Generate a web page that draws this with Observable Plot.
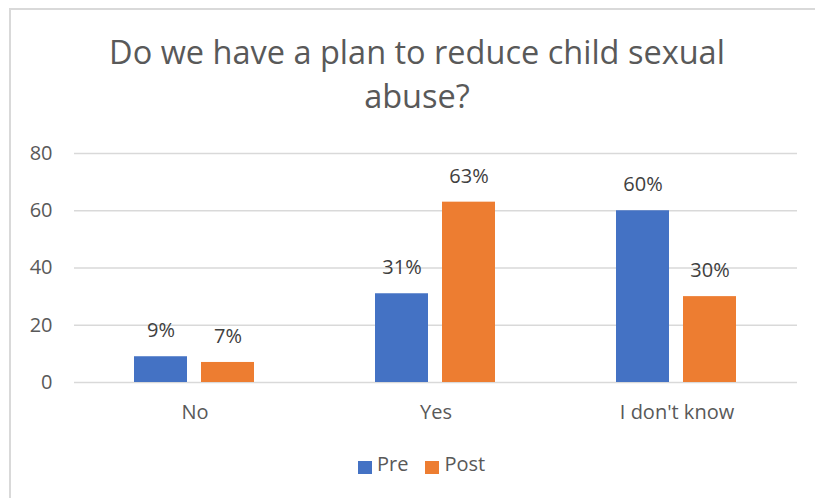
<!DOCTYPE html>
<html>
<head>
<meta charset="utf-8">
<script src="https://cdn.jsdelivr.net/npm/d3@7"></script>
<script src="https://cdn.jsdelivr.net/npm/@observablehq/plot@0.6"></script>
<style>
  html, body { margin: 0; padding: 0; background: #fff; }
  body { width: 815px; height: 498px; position: relative; overflow: hidden; font-family: "Open Sans", sans-serif; color: #595959; }
  #frame { position: absolute; left: 9px; top: 8px; width: 900px; height: 600px; border-left: 2px solid #d9d9d9; border-top: 2px solid #d9d9d9; }
  #title { position: absolute; left: 0; top: 30px; width: 834px; text-align: center; font-size: 32.5px; line-height: 44px; color: #595959; }
  #chart { position: absolute; left: 0; top: 130px; }
  #legend { position: absolute; top: 454px; left: 358px; display: flex; align-items: center; font-size: 20px; line-height: 20px; color: #595959; }
  .sw { width: 14px; height: 13px; display: inline-block; margin-right: 5px; margin-top: 6px; }
  .item { display: flex; align-items: center; margin-right: 17px; }
</style>
</head>
<body>
<div id="frame"></div>
<div id="title">Do we have a plan to reduce child sexual<br>abuse?</div>
<div id="chart"></div>
<div id="legend"></div>
<script>
const categories = ["No", "Yes", "I don't know"];
const series = ["Pre", "Post"];
const preValues = [9, 31, 60];
const postValues = [7, 63, 30];
const yTicks = [0, 20, 40, 60, 80];
const colors = ["#4472C4", "#ED7D31"];

const data = categories.flatMap((c, i) => [
  {cat: c, s: "Pre", v: preValues[i]},
  {cat: c, s: "Post", v: postValues[i]}
]);

const chart = Plot.plot({
  width: 815,
  height: 300,
  marginLeft: 73,
  marginRight: 18,
  marginTop: 23,
  marginBottom: 48,
  style: {fontFamily: "Open Sans, sans-serif", color: "#595959", background: "transparent", overflow: "visible"},
  fx: {domain: categories, padding: 0, label: null, axis: null},
  x: {domain: series, paddingInner: 0.206, paddingOuter: 0.88, axis: null},
  y: {domain: [0, 80], label: null, axis: null},
  color: {domain: series, range: colors},
  marks: [
    Plot.gridY(yTicks, {stroke: "#d9d9d9", strokeOpacity: 1, strokeWidth: 1.5}),
    Plot.barY(data, {fx: "cat", x: "s", y: "v", fill: "s"}),
    Plot.text(data, {fx: "cat", x: "s", y: "v", text: d => d.v + "%", dy: -26, fontSize: 20, fill: "#404040"}),
    Plot.axisY(yTicks, {tickSize: 0, tickPadding: 22, fontSize: 20, fill: "#595959", label: null}),
    Plot.axisFx({anchor: "bottom", tickSize: 0, tickPadding: 22, fontSize: 20, fill: "#595959", label: null})
  ]
});
document.getElementById("chart").appendChild(chart);

const legend = document.getElementById("legend");
series.forEach((s, i) => {
  const item = document.createElement("div");
  item.className = "item";
  const sw = document.createElement("span");
  sw.className = "sw";
  sw.style.background = colors[i];
  const t = document.createElement("span");
  t.textContent = s;
  item.appendChild(sw);
  item.appendChild(t);
  legend.appendChild(item);
});
</script>
</body>
</html>
